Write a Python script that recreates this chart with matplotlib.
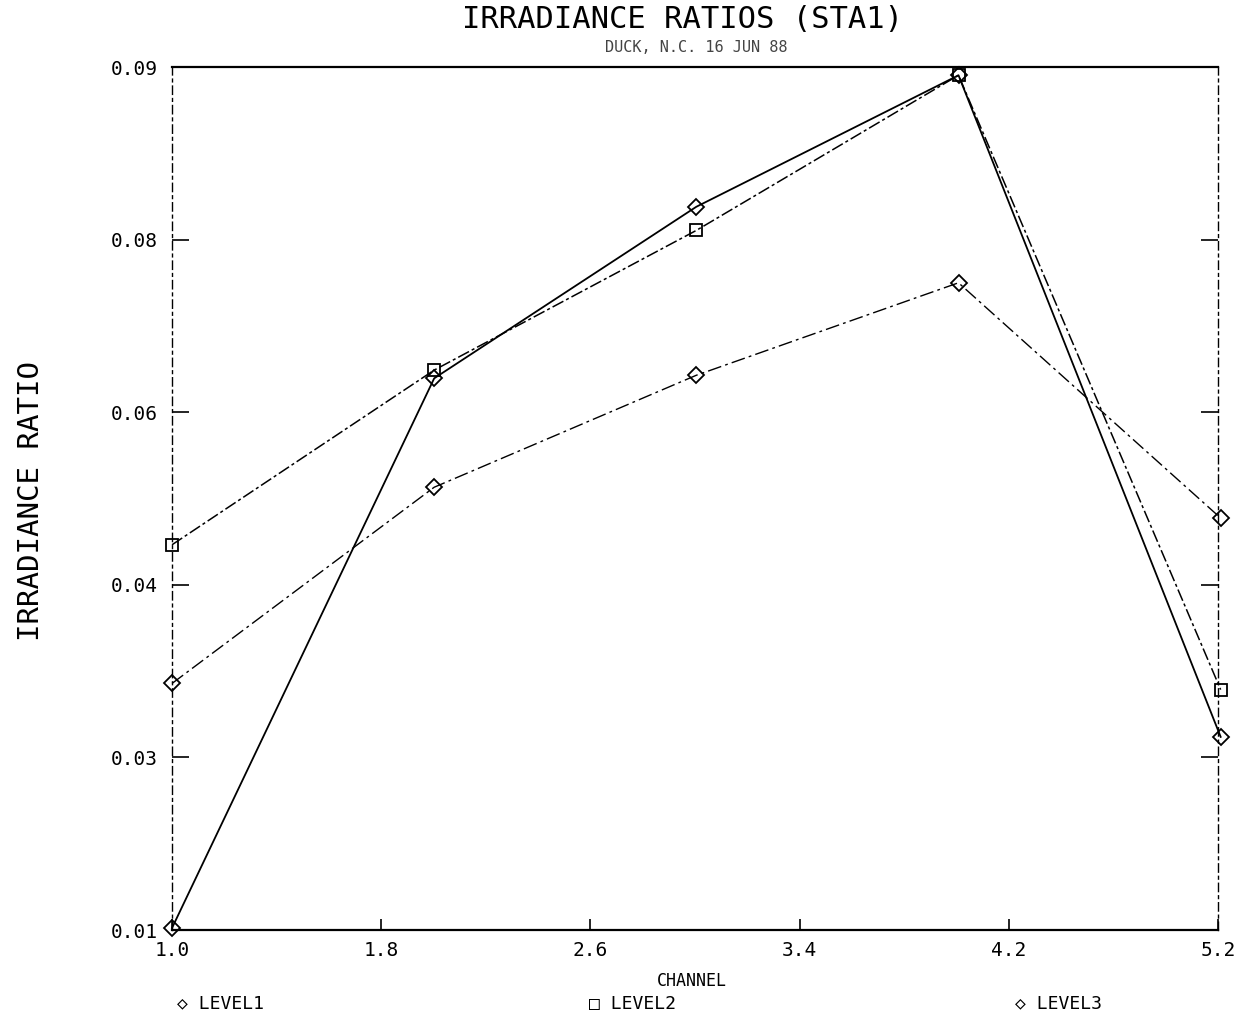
import numpy as np
import matplotlib

matplotlib.use("Agg")
import matplotlib.pyplot as plt

# values
channels = [1, 2, 3, 4, 5]
level1 = [0.0102, 0.0637, 0.0804, 0.0932, 0.0288]
level2 = [0.0475, 0.0645, 0.0781, 0.0932, 0.0334]
level3 = [0.0340, 0.0531, 0.0640, 0.0730, 0.0501]

x_tick_labels = ["1.0", "1.8", "2.6", "3.4", "4.2", "5.2"]
y_tick_labels = ["0.01", "0.03", "0.04", "0.06", "0.08", "0.09"]

XMIN, XMAX = 1.0, 4.99
YMIN, YMAX = 0.01, 0.094

MONO = "DejaVu Sans Mono"

fig = plt.figure(figsize=(12.53, 10.22), dpi=100, facecolor="white")
ax = fig.add_axes([0.1373, 0.09, 0.9721 - 0.1373, 0.9344 - 0.09])

ax.plot(channels, level1, color="black", lw=1.3, ls="-",
        marker="D", ms=8, mfc="none", mec="black", mew=1.3, clip_on=False)
ax.plot(channels, level2, color="black", lw=1.1, ls=(0, (8, 2, 2, 2)),
        marker="s", ms=8, mfc="none", mec="black", mew=1.3, clip_on=False)
ax.plot(channels, level3, color="black", lw=1.0, ls=(0, (10, 3, 2, 3)),
        marker="D", ms=8, mfc="none", mec="black", mew=1.3, clip_on=False)

ax.set_xlim(XMIN, XMAX)
ax.set_ylim(YMIN, YMAX)

for side in ["left", "right"]:
    ax.spines[side].set_linestyle((0, (6, 3, 2, 3)))
    ax.spines[side].set_linewidth(1.0)
for side in ["top", "bottom"]:
    ax.spines[side].set_linewidth(1.6)

ax.set_xticks(np.linspace(XMIN, XMAX, len(x_tick_labels)))
ax.set_xticklabels(x_tick_labels, family=MONO, fontsize=14)
ax.set_yticks(np.linspace(YMIN, YMAX, len(y_tick_labels)))
ax.set_yticklabels(y_tick_labels, family=MONO, fontsize=14)
ax.tick_params(axis="both", direction="in", length=12, width=1.2, pad=10,
               right=True, top=False)
ax.tick_params(axis="x", length=8, pad=8)

fig.text(0.545, 0.981, "IRRADIANCE RATIOS (STA1)", family=MONO, fontsize=22,
         ha="center", va="center")
fig.text(0.556, 0.954, "DUCK, N.C. 16 JUN 88", family=MONO, fontsize=11,
         ha="center", va="center", color="#444444")
fig.text(0.025, 0.51, "IRRADIANCE RATIO", family=MONO, fontsize=21,
         rotation=90, ha="center", va="center")
fig.text(0.552, 0.04, "CHANNEL", family=MONO, fontsize=12,
         ha="center", va="center")

legend_items = [("\u25c7 LEVEL1", 0.176), ("\u25a1 LEVEL2", 0.505), ("\u25c7 LEVEL3", 0.845)]
for label, xpos in legend_items:
    fig.text(xpos, 0.018, label, family=MONO, fontsize=13, ha="center", va="center")

fig.savefig("out.png", dpi=100, facecolor="white")
